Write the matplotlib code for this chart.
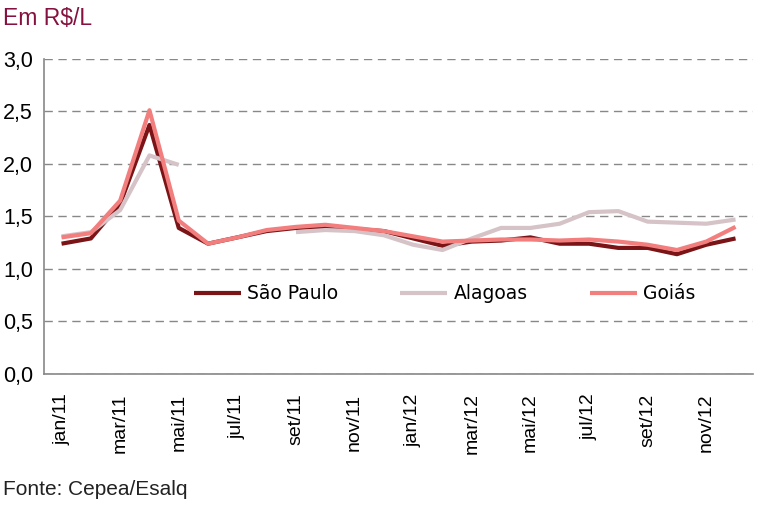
import numpy as np
import matplotlib
matplotlib.use("Agg")
import matplotlib.pyplot as plt

# ── Data (R$/L) ────────────────────────────────────────────────────────────────
months = ["jan/11", "fev/11", "mar/11", "abr/11", "mai/11", "jun/11",
          "jul/11", "ago/11", "set/11", "out/11", "nov/11", "dez/11",
          "jan/12", "fev/12", "mar/12", "abr/12", "mai/12", "jun/12",
          "jul/12", "ago/12", "set/12", "out/12", "nov/12", "dez/12"]

sao_paulo = [1.24, 1.29, 1.62, 2.37, 1.39, 1.24, 1.30, 1.36, 1.39, 1.40, 1.38, 1.36,
             1.29, 1.22, 1.26, 1.27, 1.30, 1.24, 1.24, 1.20, 1.20, 1.14, 1.23, 1.29]

alagoas = [1.31, 1.35, 1.56, 2.08, 1.99, np.nan, np.nan, np.nan, 1.35, 1.37, 1.36, 1.32,
           1.23, 1.18, 1.29, 1.39, 1.39, 1.43, 1.54, 1.55, 1.45, 1.44, 1.43, 1.47]

goias = [1.30, 1.34, 1.65, 2.51, 1.46, 1.24, 1.30, 1.37, 1.40, 1.42, 1.39, 1.36,
         1.31, 1.26, 1.27, 1.28, 1.28, 1.27, 1.28, 1.26, 1.23, 1.18, 1.26, 1.40]

yticks = [0.0, 0.5, 1.0, 1.5, 2.0, 2.5, 3.0]

series = [
    ("São Paulo", sao_paulo, "#7a1416"),
    ("Alagoas",   alagoas,   "#d5c3c7"),
    ("Goiás",     goias,     "#f27e7e"),
]

# ── Plot ───────────────────────────────────────────────────────────────────────
plt.rcParams["font.family"] = ["Liberation Sans", "DejaVu Sans"]

fig = plt.figure(figsize=(7.81, 5.28), dpi=100)
ax = fig.add_axes([0.0563, 0.2917, 0.908, 0.597])

x = np.arange(len(months))
for label, vals, color in series:
    ax.plot(x, vals, color=color, linewidth=3.0, label=label, solid_capstyle="butt")

ax.set_xlim(-0.6, len(months) - 0.4)
ax.set_ylim(0, 3.0)
ax.set_yticks(yticks)
ax.set_yticklabels([f"{v:.1f}".replace(".", ",") for v in yticks], fontsize=15.5)
ax.set_xticks(x[::2])
ax.set_xticklabels(months[::2], rotation=90, fontsize=14)
ax.tick_params(length=0)
ax.tick_params(axis="x", pad=14)
ax.tick_params(axis="y", pad=8)

ax.grid(axis="y", linestyle=(0, (6, 4)), color="#888888", linewidth=1.0)
ax.set_axisbelow(True)
for s in ["top", "right"]:
    ax.spines[s].set_visible(False)
for s in ["left", "bottom"]:
    ax.spines[s].set_color("#888888")
    ax.spines[s].set_linewidth(1.2)

leg = ax.legend(loc="center", bbox_to_anchor=(0.565, 0.255), ncol=3, frameon=False,
                handlelength=2.5, columnspacing=3.3, handletextpad=0.35,
                prop={"family": "DejaVu Sans", "size": 13.5})

fig.text(0.004, 0.965, "Em R$/L", color="#861140", fontsize=16.5, va="center")
fig.text(0.004, 0.072, "Fonte: Cepea/Esalq", color="#222222", fontsize=15, va="center")

plt.savefig("out.png", dpi=100)
